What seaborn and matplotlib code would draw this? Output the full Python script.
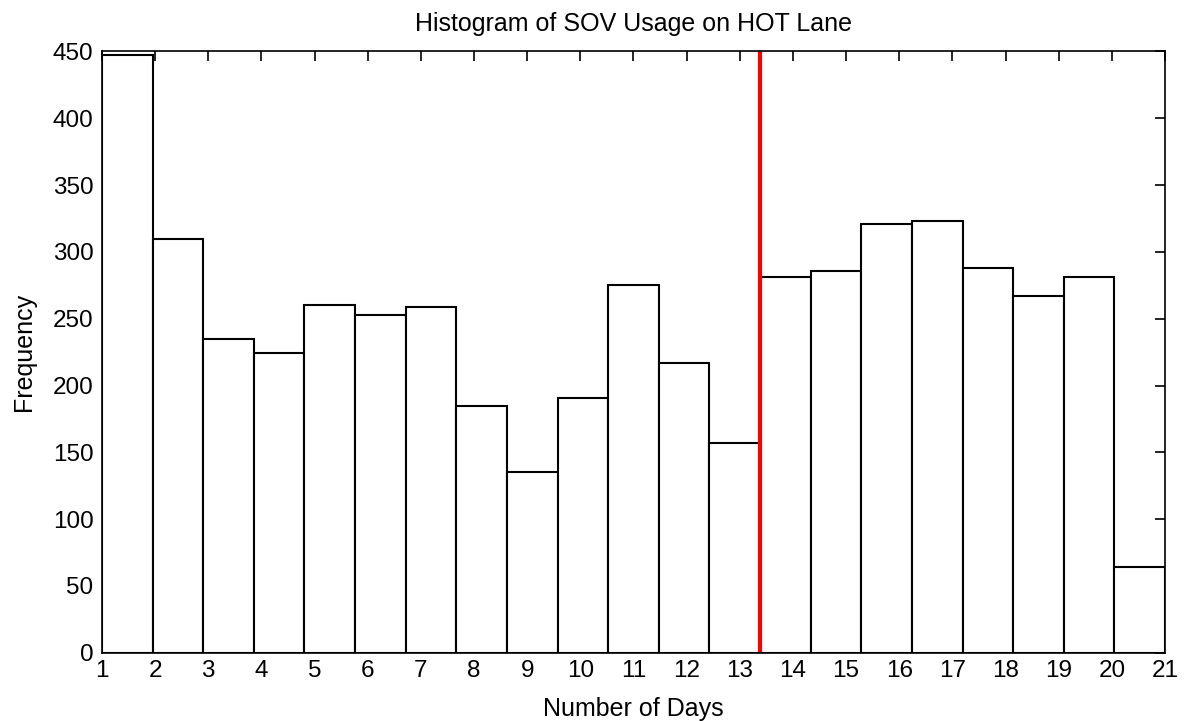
import numpy as np
import pandas as pd
import matplotlib
matplotlib.use("Agg")
import matplotlib.pyplot as plt
import seaborn as sns

# counts, 21 bins between 1 and 21 days
counts = [447, 310, 235, 224, 260, 253, 259, 185, 135, 191, 275,
          217, 157, 281, 286, 321, 323, 288, 267, 281, 64]
x_min, x_max = 1, 21
marker_x = 13.38  # red vertical line
x_ticks = list(range(1, 22))
y_ticks = list(range(0, 451, 50))

edges = np.linspace(x_min, x_max, len(counts) + 1)
df = pd.DataFrame({"days": (edges[:-1] + edges[1:]) / 2, "count": counts})

sns.set_style("white")
plt.rcParams['font.family'] = ['Liberation Sans', 'DejaVu Sans']
plt.rcParams['text.color'] = 'black'
plt.rcParams['axes.labelcolor'] = 'black'

fig = plt.figure(figsize=(11.84, 7.21), dpi=100)
ax = fig.add_axes([0.0861, 0.0947, 0.8979, 0.8339])

sns.histplot(data=df, x="days", weights="count", bins=list(edges), ax=ax,
             color="white", edgecolor="black", linewidth=1.5, alpha=1)
ax.axvline(marker_x, color="red", linewidth=3)

ax.set_xlim(x_min, x_max)
ax.set_ylim(0, 450)
ax.set_xticks(x_ticks)
ax.set_yticks(y_ticks)
ax.tick_params(direction="in", length=7, width=1.2, top=True, right=True,
               labelsize=17.5, colors="black")
ax.tick_params(axis="x", pad=5)
ax.tick_params(axis="y", pad=6)
for s in ax.spines.values():
    s.set_color("black")
    s.set_linewidth(1.2)

ax.set_title("Histogram of SOV Usage on HOT Lane", fontsize=18, pad=15, color="black")
ax.set_xlabel("Number of Days", fontsize=18, labelpad=11)
ax.set_ylabel("Frequency", fontsize=18, labelpad=12)

fig.savefig("out.png", dpi=100)
